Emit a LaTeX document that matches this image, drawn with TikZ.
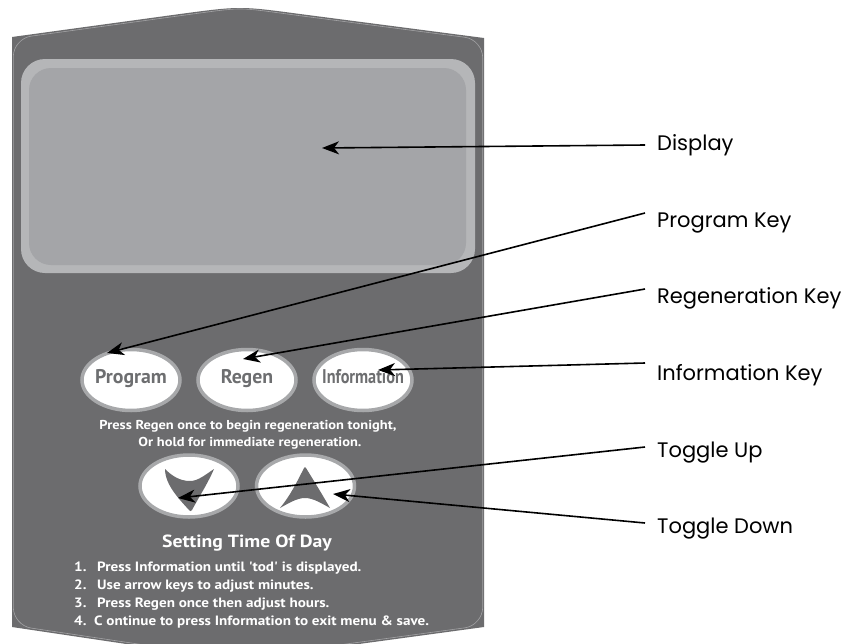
\documentclass[tikz,border=0pt]{standalone}
\usepackage{fontspec}
\setmainfont{PT Sans}
\newfontfamily\widefont{PT Sans}[FakeStretch=1.12]
\newfontfamily\lblfont{Poppins}
\usetikzlibrary{arrows.meta,shapes.geometric}
\definecolor{panel}{HTML}{6C6C6E}
\definecolor{rim}{HTML}{A2A2A4}
\definecolor{lcdout}{HTML}{B5B6B8}
\definecolor{lcdin}{HTML}{A4A5A8}
\definecolor{ring}{HTML}{A7A8AA}
\definecolor{keytxt}{HTML}{6D6E70}
\tikzset{
  keybtn/.style={ellipse, draw=ring, line width=3.5pt, fill=white, inner sep=0pt,
    minimum width=98pt, minimum height=61pt},
  keylabel/.style={font=\bfseries\fontsize{19.8}{22}\selectfont, text=keytxt,
    text height=13pt, text depth=4pt, inner sep=0pt},
  hint/.style={font=\widefont\bfseries\fontsize{12.9}{14}\selectfont, text=white, inner sep=0pt},
  stepline/.style={font=\widefont\bfseries\fontsize{13.5}{15}\selectfont, text=white, inner sep=0pt,
    anchor=base west},
  callout/.style={font=\lblfont\fontsize{21}{23}\selectfont, text=black, inner sep=0pt,
    anchor=base west},
  arr/.style={draw=black, line width=1.6pt, -{Stealth[length=17pt,width=13pt,inset=5pt]}},
  glyph/.style={fill=panel}
}
\begin{document}
\begin{tikzpicture}[x=1pt,y=-1pt]
\clip (0,0) rectangle (846,643);
\fill[white] (0,0) rectangle (846,643);
% panel
\fill[panel] (12,37) -- (180,14) .. controls (240,6) .. (300,14) -- (484,38)
  -- (484,627) -- (300,652) .. controls (240,660) .. (180,652) -- (12,627) -- cycle;
\draw[rim, line width=0.6pt, rounded corners=18pt] (13.3,38.6) -- (181,15.6)
  .. controls (240,7.6) .. (299,15.6) -- (482.7,39.6) -- (482.7,625.4)
  -- (299,650.4) .. controls (240,658.4) .. (181,650.4) -- (13.3,625.4) -- cycle;
% display
\node[fill=lcdout, rounded corners=24pt, minimum width=454pt, minimum height=214pt, inner sep=0pt]
  (display) at (248,166) {};
\node[fill=lcdin, rounded corners=22pt, minimum width=437pt, minimum height=197pt, inner sep=0pt]
  (lcd) at (247.5,166.5) {};
% keys
\node[keybtn] (prog) at (131,380) {};
\node[keybtn] (regen) at (247,380) {};
\node[keybtn] (info) at (363,380) {};
\node[keylabel] (progT) at (131,378.5) {Program};
\node[keylabel] (regenT) at (247,378.5) {Regen};
\node[keylabel] (infoT) at (363,378.5) {\scalebox{0.82}[1]{Information}};
\node[hint] (hintA) at (248,426) {Press Regen once to begin regeneration tonight,};
\node[hint] (hintB) at (250,443) {Or hold for immediate regeneration.};
% toggles
\node[keybtn, minimum height=62pt] (down) at (189,486) {};
\node[keybtn, minimum height=62pt] (up) at (305.5,486) {};
\fill[glyph] (165,469) .. controls (165,485) and (180,500) .. (189,510)
  .. controls (190,511.5) and (191,511.5) .. (192,510)
  .. controls (199,497) and (208,483) .. (214,469)
  .. controls (205,475) and (198,481) .. (190,481)
  .. controls (180,481) and (172,476) .. (165,469) -- cycle;
\fill[glyph] (304,468) .. controls (297,482) and (290,496) .. (280,508)
  .. controls (289,503) and (297,498) .. (305,498)
  .. controls (313,498) and (321,503) .. (330,508)
  .. controls (322,494) and (314,481) .. (306,468)
  .. controls (305.5,466.8) and (304.5,466.8) .. (304,468) -- cycle;
% setting time of day
\node[font=\widefont\bfseries\fontsize{17.6}{19}\selectfont, text=white, inner sep=0pt] (title) at (247,543) {Setting Time Of Day};
\node[stepline] (s1n) at (74,571) {1.};
\node[stepline] (s1) at (97,571) {Press Information until 'tod' is displayed.};
\node[stepline] (s2n) at (74,589) {2.};
\node[stepline] (s2) at (97,589) {Use arrow keys to adjust minutes.};
\node[stepline] (s3n) at (74,607) {3.};
\node[stepline] (s3) at (97,607) {Press Regen once then adjust hours.};
\node[stepline] (s4) at (74,625) {4.\ \ C ontinue to press Information to exit menu \& save.};
% callouts
\node[callout] (lDisp) at (657,150) {Display};
\node[callout] (lProg) at (657,227) {Program Key};
\node[callout] (lRegen) at (657,303) {Regeneration Key};
\node[callout] (lInfo) at (657,380) {Information Key};
\node[callout] (lUp) at (657,457) {Toggle Up};
\node[callout] (lDown) at (657,533) {Toggle Down};
\coordinate (tDisp) at (322,148);
\coordinate (tProg) at (107,353);
\coordinate (tRegen) at (243,359);
\coordinate (tInfo) at (378,370);
\coordinate (tUp) at (178,498);
\coordinate (tDown) at (333,494);
\draw[arr] ([shift={(-12pt,5pt)}]lDisp.base west) -- (tDisp);
\draw[arr] ([shift={(-12pt,14pt)}]lProg.base west) -- (tProg);
\draw[arr] ([shift={(-12pt,14pt)}]lRegen.base west) -- (tRegen);
\draw[arr] ([shift={(-12pt,17pt)}]lInfo.base west) -- (tInfo);
\draw[arr] ([shift={(-12pt,10pt)}]lUp.base west) -- (tUp);
\draw[arr] ([shift={(-12pt,10pt)}]lDown.base west) -- (tDown);
\end{tikzpicture}
\end{document}
